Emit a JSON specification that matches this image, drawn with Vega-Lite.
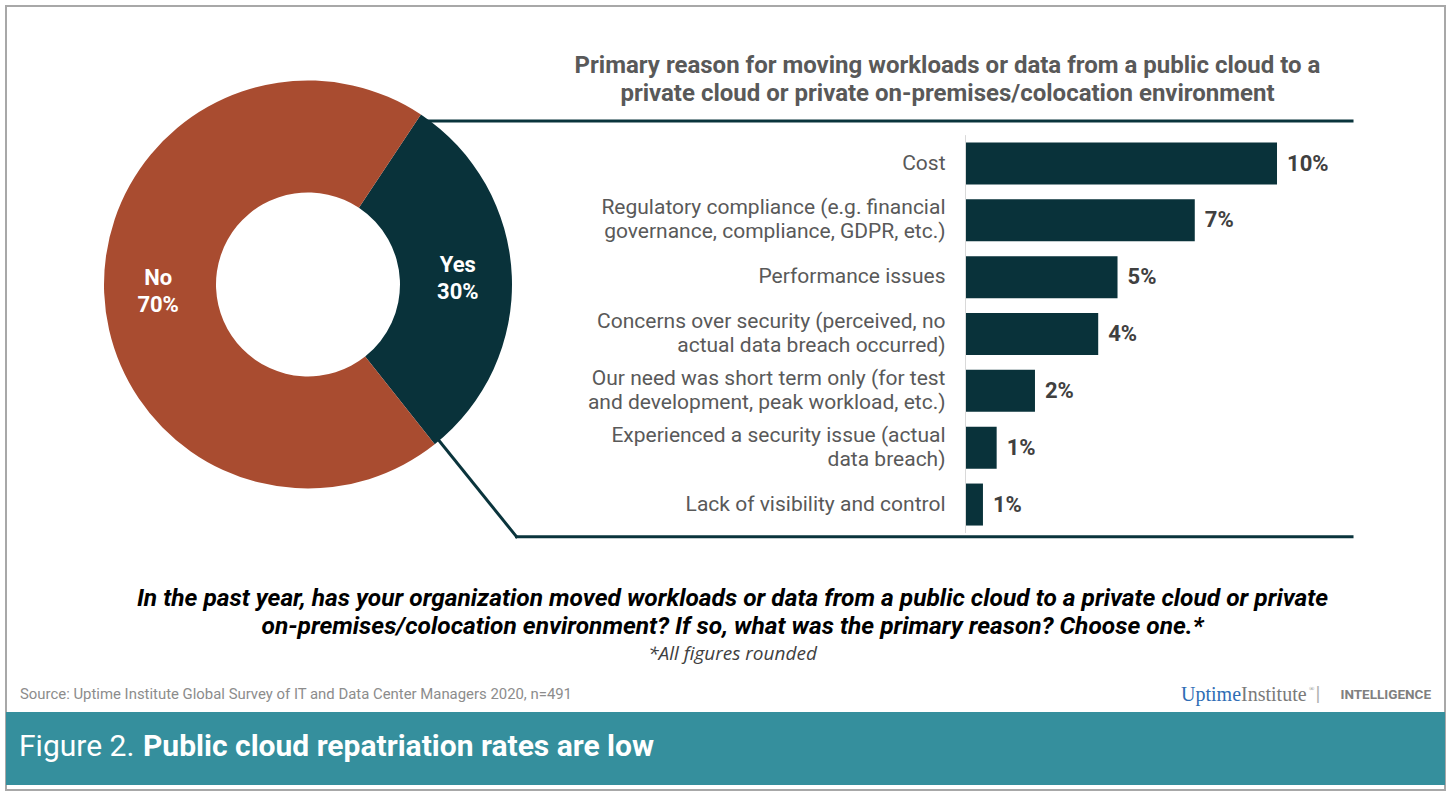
{
  "$schema": "https://vega.github.io/schema/vega-lite/v6.json",
  "width": 1439,
  "height": 784,
  "autosize": {"type": "none"},
  "padding": {"left": 6, "top": 6, "right": 5, "bottom": 1},
  "background": "white",
  "config": {"view": {"stroke": "#a8a8a8", "strokeWidth": 2}, "font": "Roboto"},
  "datasets": {
    "reasons": [
      {"reason": "Cost", "rank": 1, "pct": 0.1},
      {"reason": "Regulatory compliance (e.g. financial\ngovernance, compliance, GDPR, etc.)", "rank": 2, "pct": 0.0736},
      {"reason": "Performance issues", "rank": 3, "pct": 0.0488},
      {"reason": "Concerns over security (perceived, no\nactual data breach occurred)", "rank": 4, "pct": 0.0426},
      {"reason": "Our need was short term only (for test\nand development, peak workload, etc.)", "rank": 5, "pct": 0.0223},
      {"reason": "Experienced a security issue (actual\ndata breach)", "rank": 6, "pct": 0.01},
      {"reason": "Lack of visibility and control", "rank": 7, "pct": 0.0056}
    ],
    "moved": [
      {"answer": "Yes", "share": 0.3},
      {"answer": "No", "share": 0.7}
    ],
    "one": [{}]
  },
  "layer": [
    {
      "data": {"name": "one"},
      "mark": {"type": "rect", "color": "#358f9d"},
      "encoding": {
        "y": {"datum": 10.649, "type": "quantitative", "axis": null},
        "y2": {"datum": 11.9345}
      }
    },
    {
      "data": {"name": "reasons"},
      "mark": {"type": "bar", "orient": "horizontal", "height": 42, "color": "#09323a"},
      "encoding": {
        "x": {"field": "pct", "type": "quantitative", "axis": null,
              "scale": {"domain": [-0.30803, 0.15393], "nice": false, "zero": false}},
        "x2": {"datum": 0},
        "y": {"field": "rank", "type": "quantitative", "axis": null,
              "scale": {"domain": [-1.68369, 11.93451], "reverse": true, "nice": false, "zero": false}}
      }
    },
    {
      "data": {"name": "reasons"},
      "mark": {"type": "text", "align": "left", "baseline": "middle", "dx": 10, "fontSize": 22, "fontWeight": "bold", "color": "#404040"},
      "encoding": {
        "x": {"field": "pct", "type": "quantitative", "axis": null},
        "y": {"field": "rank", "type": "quantitative", "axis": null},
        "text": {"field": "pct", "type": "quantitative", "format": ".0%"}
      }
    },
    {
      "data": {"name": "reasons"},
      "transform": [{"filter": "indexof(datum.reason, '\\n') < 0"}],
      "mark": {"type": "text", "align": "right", "baseline": "middle", "dx": -20, "fontSize": 21, "color": "#595959"},
      "encoding": {
        "x": {"datum": 0, "type": "quantitative", "axis": null},
        "y": {"field": "rank", "type": "quantitative", "axis": null},
        "text": {"field": "reason", "type": "nominal"}
      }
    },
    {
      "data": {"name": "reasons"},
      "transform": [{"filter": "indexof(datum.reason, '\\n') >= 0"}],
      "mark": {"type": "text", "align": "right", "baseline": "middle", "dx": -20, "dy": -12, "fontSize": 21, "lineHeight": 24, "lineBreak": "\n", "color": "#595959"},
      "encoding": {
        "x": {"datum": 0, "type": "quantitative", "axis": null},
        "y": {"field": "rank", "type": "quantitative", "axis": null},
        "text": {"field": "reason", "type": "nominal"}
      }
    },
    {
      "data": {"name": "one"},
      "mark": {"type": "rule", "color": "#d9d9d9", "strokeWidth": 1},
      "encoding": {
        "x": {"datum": 0, "type": "quantitative", "axis": null},
        "y": {"datum": 0.5, "type": "quantitative", "axis": null},
        "y2": {"datum": 7.5}
      }
    },
    {
      "data": {"name": "one"},
      "mark": {"type": "rule", "color": "#0a343c", "strokeWidth": 3, "strokeCap": "square"},
      "encoding": {
        "x": {"datum": -0.17416, "type": "quantitative", "axis": null},
        "x2": {"datum": 0.12408},
        "y": {"datum": 0.25308, "type": "quantitative", "axis": null}
      }
    },
    {
      "data": {"name": "one"},
      "mark": {"type": "rule", "color": "#0a343c", "strokeWidth": 3, "strokeCap": "square"},
      "encoding": {
        "x": {"datum": -0.16976, "type": "quantitative", "axis": null},
        "x2": {"datum": -0.14414},
        "y": {"datum": 5.82543, "type": "quantitative", "axis": null},
        "y2": {"datum": 7.56592}
      }
    },
    {
      "data": {"name": "one"},
      "mark": {"type": "rule", "color": "#0a343c", "strokeWidth": 3, "strokeCap": "square"},
      "encoding": {
        "x": {"datum": -0.14414, "type": "quantitative", "axis": null},
        "x2": {"datum": 0.12408},
        "y": {"datum": 7.56592, "type": "quantitative", "axis": null}
      }
    },
    {
      "data": {"name": "moved"},
      "mark": {"type": "arc", "innerRadius": 92, "outerRadius": 204},
      "encoding": {
        "theta": {"field": "share", "type": "quantitative", "stack": true, "scale": {"range": [0.5864, 6.8696]}},
        "order": {"field": "share", "type": "quantitative", "sort": "ascending"},
        "color": {"field": "answer", "type": "nominal", "legend": null,
                  "scale": {"domain": ["No", "Yes"], "range": ["#a94c30", "#09323a"]}},
        "x": {"datum": -0.21108, "type": "quantitative", "axis": null},
        "y": {"datum": 3.1279, "type": "quantitative", "axis": null}
      }
    },
    {
      "data": {"name": "moved"},
      "mark": {"type": "text", "radius": 150, "dy": -13, "fontSize": 22, "fontWeight": "bold", "color": "white", "align": "center", "baseline": "middle"},
      "encoding": {
        "theta": {"field": "share", "type": "quantitative", "stack": true},
        "order": {"field": "share", "type": "quantitative", "sort": "ascending"},
        "x": {"datum": -0.21108, "type": "quantitative", "axis": null},
        "y": {"datum": 3.1279, "type": "quantitative", "axis": null},
        "text": {"field": "answer", "type": "nominal"}
      }
    },
    {
      "data": {"name": "moved"},
      "mark": {"type": "text", "radius": 150, "dy": 14, "fontSize": 22, "fontWeight": "bold", "color": "white", "align": "center", "baseline": "middle"},
      "encoding": {
        "theta": {"field": "share", "type": "quantitative", "stack": true},
        "order": {"field": "share", "type": "quantitative", "sort": "ascending"},
        "x": {"datum": -0.21108, "type": "quantitative", "axis": null},
        "y": {"datum": 3.1279, "type": "quantitative", "axis": null},
        "text": {"field": "share", "type": "quantitative", "format": ".0%"}
      }
    },
    {
      "data": {"name": "one"},
      "mark": {"type": "text", "align": "center", "baseline": "middle", "dy": -14, "fontSize": 24, "fontWeight": "bold", "lineHeight": 28, "lineBreak": "\n", "color": "#595959",
               "text": "Primary reason for moving workloads or data from a public cloud to a\nprivate cloud or private on-premises/colocation  environment"},
      "encoding": {
        "x": {"datum": -0.00578, "type": "quantitative", "axis": null},
        "y": {"datum": -0.46778, "type": "quantitative", "axis": null}
      }
    },
    {
      "data": {"name": "one"},
      "mark": {"type": "text", "align": "center", "baseline": "middle", "dy": -14, "fontSize": 24.5, "fontWeight": "bold", "fontStyle": "italic", "lineHeight": 28, "lineBreak": "\n", "color": "#000000",
               "text": "In the past year, has your organization moved workloads or data from a public cloud to a private cloud or private\non-premises/colocation environment? If so, what was the primary reason? Choose one.*"},
      "encoding": {
        "x": {"datum": -0.0748, "type": "quantitative", "axis": null},
        "y": {"datum": 8.91211, "type": "quantitative", "axis": null}
      }
    },
    {
      "data": {"name": "one"},
      "mark": {"type": "text", "align": "center", "baseline": "middle", "fontSize": 19, "fontStyle": "italic", "font": "Open Sans", "color": "#404040",
               "text": "*All figures rounded"},
      "encoding": {
        "x": {"datum": -0.0748, "type": "quantitative", "axis": null},
        "y": {"datum": 9.62428, "type": "quantitative", "axis": null}
      }
    },
    {
      "data": {"name": "one"},
      "mark": {"type": "text", "align": "left", "baseline": "middle", "fontSize": 14.9, "color": "#8c8c8c",
               "text": "Source: Uptime Institute Global Survey of IT and Data Center Managers  2020, n=491"},
      "encoding": {
        "x": {"datum": -0.30353, "type": "quantitative", "axis": null},
        "y": {"datum": 10.35383, "type": "quantitative", "axis": null}
      }
    },
    {
      "data": {"name": "one"},
      "mark": {"type": "text", "align": "right", "baseline": "middle", "fontSize": 20, "font": "Liberation Serif", "color": "#2e6db5", "text": "Uptime"},
      "encoding": {
        "x": {"datum": 0.08845, "type": "quantitative", "axis": null},
        "y": {"datum": 10.35383, "type": "quantitative", "axis": null}
      }
    },
    {
      "data": {"name": "one"},
      "mark": {"type": "text", "align": "left", "baseline": "middle", "fontSize": 20, "font": "Liberation Serif", "color": "#7a7a7a", "text": "Institute"},
      "encoding": {
        "x": {"datum": 0.08845, "type": "quantitative", "axis": null},
        "y": {"datum": 10.35383, "type": "quantitative", "axis": null}
      }
    },
    {
      "data": {"name": "one"},
      "mark": {"type": "text", "align": "left", "baseline": "middle", "dy": -6, "fontSize": 7, "font": "Liberation Serif", "color": "#7a7a7a", "text": "®"},
      "encoding": {
        "x": {"datum": 0.11026, "type": "quantitative", "axis": null},
        "y": {"datum": 10.35383, "type": "quantitative", "axis": null}
      }
    },
    {
      "data": {"name": "one"},
      "mark": {"type": "text", "align": "center", "baseline": "middle", "fontSize": 20, "color": "#b0b0b0", "text": "|"},
      "encoding": {
        "x": {"datum": 0.11316, "type": "quantitative", "axis": null},
        "y": {"datum": 10.35383, "type": "quantitative", "axis": null}
      }
    },
    {
      "data": {"name": "one"},
      "mark": {"type": "text", "align": "right", "baseline": "middle", "fontSize": 13.5, "fontWeight": "bold", "color": "#808080", "text": "INTELLIGENCE"},
      "encoding": {
        "x": {"datum": 0.14944, "type": "quantitative", "axis": null},
        "y": {"datum": 10.35383, "type": "quantitative", "axis": null}
      }
    },
    {
      "data": {"name": "one"},
      "mark": {"type": "text", "align": "left", "baseline": "middle", "fontSize": 30, "color": "white", "text": "Figure 2."},
      "encoding": {
        "x": {"datum": -0.30385, "type": "quantitative", "axis": null},
        "y": {"datum": 11.27445, "type": "quantitative", "axis": null}
      }
    },
    {
      "data": {"name": "one"},
      "mark": {"type": "text", "align": "left", "baseline": "middle", "fontSize": 30, "fontWeight": "bold", "color": "white", "text": "Public cloud repatriation rates are low"},
      "encoding": {
        "x": {"datum": -0.26404, "type": "quantitative", "axis": null},
        "y": {"datum": 11.27445, "type": "quantitative", "axis": null}
      }
    }
  ]
}
